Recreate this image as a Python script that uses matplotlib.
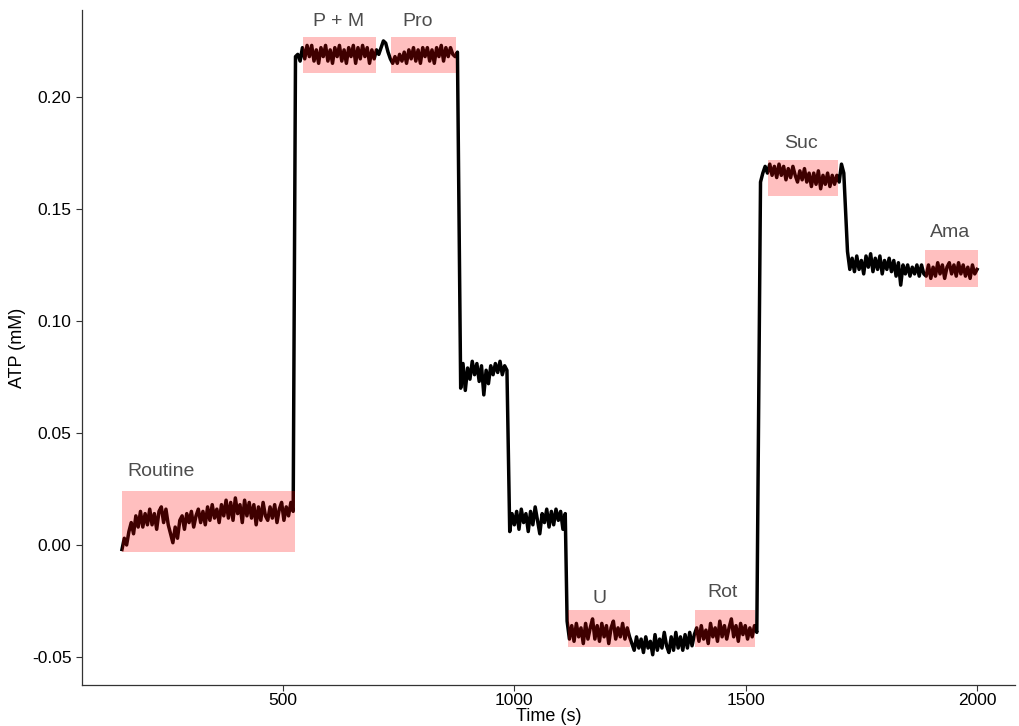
import matplotlib
matplotlib.use("Agg")
import matplotlib.pyplot as plt
from matplotlib.patches import Rectangle
import numpy as np

plt.rcParams['font.family'] = ['Liberation Sans', 'DejaVu Sans']

# ATP trace, sampled every 5 s, values in uM (converted to mM below)
step = 5
seg_starts = [152, 527, 884, 990, 1114, 1532, 1720]

routine = [-2, 3, 0, 6, 10, 5, 13, 8, 15, 8, 14, 9, 16, 9, 14, 7, 15, 17, 10, 16,
           9, 5, 1, 8, 3, 11, 13, 7, 14, 10, 15, 8, 13, 16, 10, 15, 9, 17, 11, 18,
           12, 16, 10, 18, 13, 20, 12, 19, 11, 21, 14, 18, 10, 20, 13, 19, 12, 18, 9, 17,
           11, 19, 13, 11, 17, 12, 18, 10, 16, 19, 11, 17, 13, 19, 15]
pm_pro = [218, 219, 216, 222, 217, 223, 218, 223, 216, 221, 215, 222, 218, 223, 216, 221,
          215, 222, 218, 223, 216, 221, 215, 222, 218, 223, 215, 222, 217, 223, 218, 222,
          215, 221, 217, 221, 219, 222, 225, 224, 220, 217, 215, 218, 215, 219, 216, 220,
          215, 221, 217, 222, 216, 221, 215, 222, 218, 222, 216, 221, 215, 222, 218, 223,
          216, 222, 218, 222, 219, 218, 220]
step2 = [70, 81, 69, 79, 74, 82, 76, 81, 73, 80, 67, 78, 72, 80, 76, 81, 77, 82, 76, 80, 78]
step3 = [6, 14, 9, 15, 7, 16, 10, 14, 6, 15, 9, 17, 11, 5, 14, 10, 16, 8, 15, 9,
         16, 11, 15, 7, 14]
u_rot = [-34, -42, -36, -43, -35, -41, -37, -44, -35, -42, -37, -33, -42, -36, -43, -35,
         -41, -36, -44, -37, -34, -42, -37, -41, -35, -42, -37, -41,
         -44, -47, -41, -46, -42, -48, -41, -46, -43, -49, -40, -47, -42, -46, -39, -45,
         -48, -41, -47, -39, -46, -41, -47, -40, -46, -39, -45, -40,
         -37, -43, -36, -42, -38, -44, -35, -41, -37, -43, -34, -41, -36, -42, -37, -33,
         -41, -36, -43, -35, -40, -36, -42, -37, -41, -36, -39]
suc = [162, 166, 169, 166, 170, 165, 169, 164, 170, 165, 169, 163, 168, 164, 169, 165,
       162, 167, 163, 168, 162, 166, 160, 166, 161, 167, 159, 165, 161, 166, 160, 165,
       161, 165, 162, 170, 166]
ama = [131, 123, 128, 122, 129, 123, 127, 121, 129, 124, 130, 122, 128, 123, 129, 121,
       127, 123, 128, 122, 127, 120, 126, 116, 125, 121, 125, 120, 124, 121, 125, 120,
       125, 121, 120, 125, 119, 124, 120, 126, 121, 125, 119, 124, 126, 121, 125, 120,
       126, 121, 125, 120, 124, 119, 125, 121, 123]
segments = [routine, pm_pro, step2, step3, u_rot, suc, ama]

# analysis windows: label, label x, label y (uM), t0, t1, y0, y1 (uM)
win_labels = ["Routine", "P + M", "Pro", "U", "Rot", "Suc", "Ama"]
label_x = [236, 621, 792, 1185, 1451, 1620, 1942]
label_y = [32.6, 233.5, 233.5, -23.7, -21.0, 179.0, 139.7]
win_t0 = [152, 543, 733, 1116, 1390, 1549, 1888]
win_t1 = [525, 701, 874, 1250, 1520, 1700, 2003]
win_y0 = [-3.0, 210.7, 210.7, -45.5, -45.5, 155.8, 115.2]
win_y1 = [24.0, 226.8, 226.8, -29.0, -29.0, 171.9, 131.7]

time = np.concatenate([t0 + step * np.arange(len(v)) for t0, v in zip(seg_starts, segments)])
atp = np.concatenate([np.array(v, dtype=float) for v in segments]) / 1000.0

fig = plt.figure(figsize=(10.19, 7.26), dpi=100)
ax = fig.add_axes([82 / 1019, 41 / 726, 933 / 1019, 675 / 726])

ax.plot(time, atp, color='black', lw=2.5, solid_joinstyle='round', zorder=2)

for i in range(len(win_labels)):
    ax.add_patch(Rectangle((win_t0[i], win_y0[i] / 1000), win_t1[i] - win_t0[i],
                           (win_y1[i] - win_y0[i]) / 1000,
                           facecolor=(1, 0, 0, 0.25), edgecolor='none', zorder=3))
    ax.text(label_x[i], label_y[i] / 1000, win_labels[i], ha='center', va='center',
            fontsize=14, color='#4d4d4d')

ax.set_xlim(65.6, 2082)
ax.set_ylim(-0.0625, 0.2388)
ax.set_xticks([500, 1000, 1500, 2000])
ax.set_yticks([-0.05, 0.0, 0.05, 0.10, 0.15, 0.20])
ax.set_yticklabels(['-0.05', '0.00', '0.05', '0.10', '0.15', '0.20'])
ax.tick_params(labelsize=12.5, colors='#333333', length=4, width=0.8, labelcolor='black')
ax.tick_params(axis='x', pad=2)
for side in ['top', 'right']:
    ax.spines[side].set_visible(False)
for side in ['left', 'bottom']:
    ax.spines[side].set_linewidth(0.9)
    ax.spines[side].set_color('#333333')

ax.set_xlabel('Time (s)', fontsize=13, va='center')
ax.xaxis.set_label_coords(0.5, -0.046)
ax.set_ylabel('ATP (mM)', fontsize=13, va='center')
ax.yaxis.set_label_coords(-0.0686, 0.5)

fig.savefig('out.png', dpi=100)
